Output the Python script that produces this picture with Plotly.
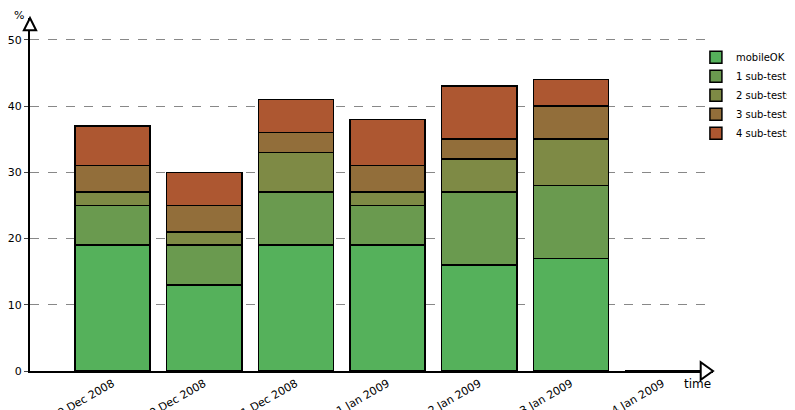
import plotly.graph_objects as go

dates = ["29 Dec 2008", "30 Dec 2008", "31 Dec 2008", "1 Jan 2009", "2 Jan 2009", "3 Jan 2009", "4 Jan 2009"]
mobileok = [19, 13, 19, 19, 16, 17, 0]
fail1 = [6, 6, 8, 6, 11, 11, 0]
fail2 = [2, 2, 6, 2, 5, 7, 0]
fail3 = [4, 4, 3, 4, 3, 5, 0]
fail4 = [6, 5, 5, 7, 8, 4, 0]
names = ["mobileOK pages", "1 sub-test failed", "2 sub-tests failed", "3 sub-tests failed", "4 sub-tests failed"]
colors = ["#55b15b", "#6a9a4f", "#7e8a45", "#926e3a", "#ad5731"]

fig = go.Figure()
for vals, n, c in zip([mobileok, fail1, fail2, fail3, fail4], names, colors):
    fig.add_bar(x=list(range(len(dates))), y=vals, name=n, marker=dict(color=c, line=dict(color="black", width=1.5)), width=0.82)

fig.update_layout(
    barmode="stack", width=795, height=410, plot_bgcolor="white", paper_bgcolor="white",
    margin=dict(l=22, r=90, t=10, b=47, autoexpand=False),
    font=dict(family="DejaVu Sans", size=11, color="black"),
    legend=dict(x=0.975, y=0.93, xanchor="left", yanchor="top", font=dict(size=10), bgcolor="rgba(0,0,0,0)", traceorder="normal", itemwidth=30),
    showlegend=True,
)
fig.update_xaxes(tickmode="array", tickvals=list(range(len(dates))), ticktext=dates, tickangle=-30, automargin=False,
                 range=[-0.9, 6.55], showline=True, linecolor="black", linewidth=2, ticks="", showgrid=False, zeroline=False)
fig.update_yaxes(range=[0, 53.3], tickvals=[0, 10, 20, 30, 40, 50], showline=True, linecolor="black", linewidth=2, automargin=False,
                 showgrid=True, gridcolor="#888", griddash="dash", gridwidth=1, zeroline=False, ticks="outside", ticklen=4)
fig.add_annotation(x=0, y=1.0, xref="paper", yref="paper", text="%", showarrow=False, xanchor="right", yanchor="bottom", xshift=-4, yshift=-6)
fig.add_annotation(x=1.0, y=0, xref="paper", yref="paper", text="time", showarrow=False, xanchor="right", yanchor="top", yshift=-4, font=dict(size=12))
fig.add_shape(type="path", xref="paper", yref="paper", path="M 1.0 0 L 0.982 0.025 L 0.982 -0.025 Z", fillcolor="white", line=dict(color="black", width=2))
fig.add_shape(type="path", xref="paper", yref="paper", path="M 0 1.0 L -0.009 0.965 L 0.009 0.965 Z", fillcolor="white", line=dict(color="black", width=2))
fig.write_html("out.html")
